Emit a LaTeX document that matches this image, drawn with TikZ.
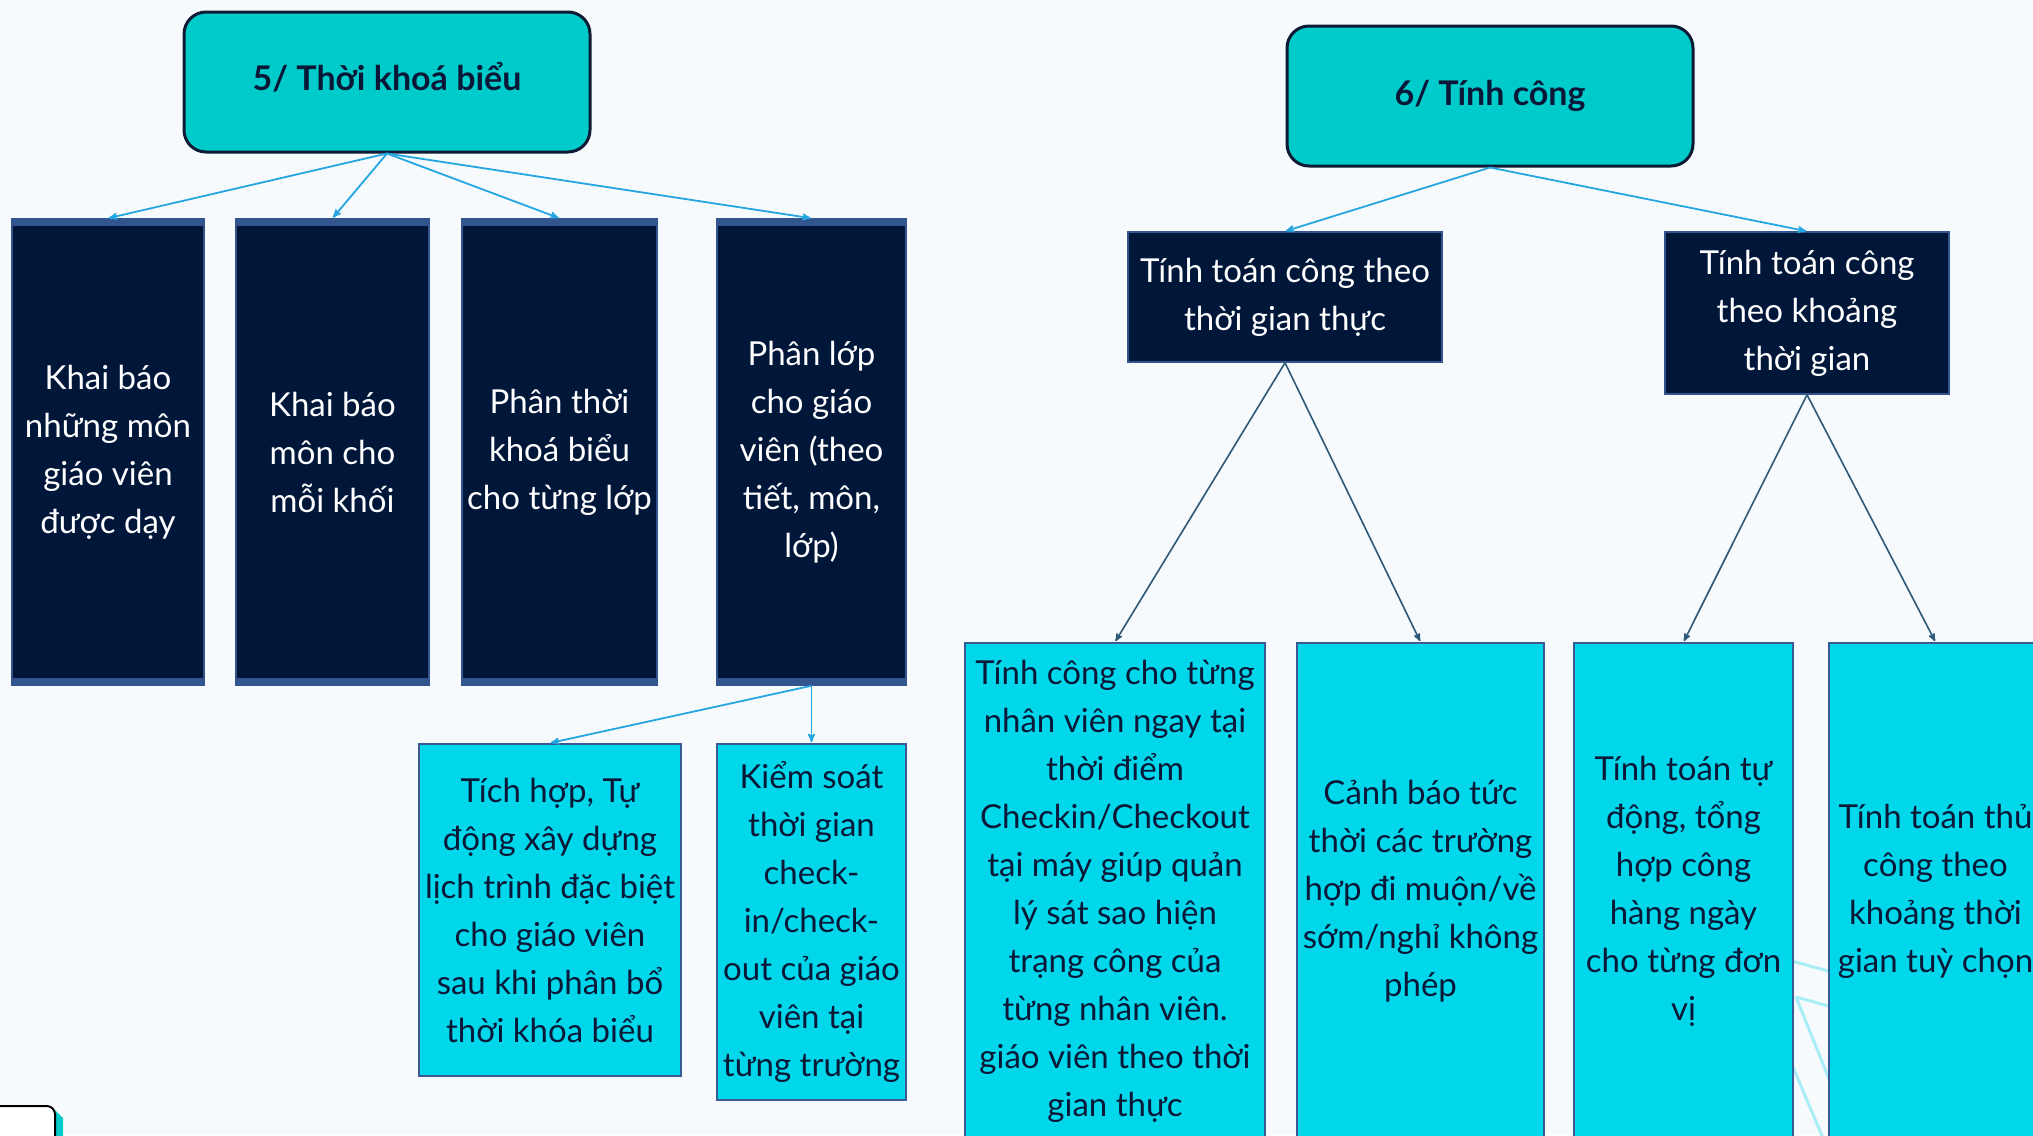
\documentclass[tikz,border=0pt]{standalone}
\usepackage{fontspec}
\setmainfont{Lato}
\usepackage{xcolor}
\usepackage{tikz}
\usetikzlibrary{arrows}

\definecolor{bgcol}{HTML}{F6FAFD}
\definecolor{topicfill}{HTML}{00CBCB}
\definecolor{topicline}{HTML}{0D1B35}
\definecolor{navyfill}{HTML}{00173A}
\definecolor{bandblue}{HTML}{33558F}
\definecolor{cyanfill}{HTML}{00D7EB}
\definecolor{edgeblue}{HTML}{3A5A96}
\definecolor{navytext}{HTML}{0A1838}
\definecolor{linkblue}{HTML}{25A6E1}
\definecolor{slate}{HTML}{2E5877}
\definecolor{faint}{HTML}{A9EEF6}

\newcommand{\boxfont}{\fontsize{33}{48}\selectfont}

\tikzset{
 topic/.style={draw=topicline,line width=3pt,fill=topicfill,rounded corners=22pt,
  minimum width=406pt,minimum height=140pt,inner sep=0pt,text=navytext,
  font=\bfseries\fontsize{34}{40}\selectfont},
 darkcol/.style={fill=navyfill,draw=bandblue,line width=1.5pt,text=white,
  align=center,inner sep=0pt,font=\boxfont,
  path picture={
   \fill[bandblue] (path picture bounding box.north west) rectangle ([yshift=-7pt]path picture bounding box.north east);
   \fill[bandblue] (path picture bounding box.south west) rectangle ([yshift=7pt]path picture bounding box.south east);}},
 darkbox/.style={fill=navyfill,draw=bandblue,line width=1.5pt,text=white,
  align=center,inner sep=0pt,font=\boxfont},
 cyanbox/.style={fill=cyanfill,draw=edgeblue,line width=2pt,text=navytext,
  align=center,inner sep=0pt,font=\boxfont},
 link/.style={->,draw=linkblue,line width=1.8pt},
 sublink/.style={->,draw=slate,line width=1.6pt}
}

\begin{document}
\begin{tikzpicture}[x=1pt,y=-1pt,>=stealth',shorten >=1pt]
 \fill[bgcol] (0,0) rectangle (2033,1135);
 \useasboundingbox (0,0) rectangle (2033,1135);
 \clip (0,0) rectangle (2033,1135);

 % faint lines behind the boxes
 \coordinate (fa) at (1770,955);
 \coordinate (fb) at (1850,977);
 \coordinate (fc) at (1796,997);
 \coordinate (fd) at (1850,1012);
 \coordinate (fe) at (1850,1131);
 \coordinate (ff) at (1770,1013);
 \coordinate (fg) at (1845,1190);
 \draw[faint,line width=3pt] (fa) -- (fb);
 \draw[faint,line width=3pt] (fc) -- (fd);
 \draw[faint,line width=3pt] (fc) -- (fe);
 \draw[faint,line width=3pt] (ff) -- (fg);

 % 5/ Thoi khoa bieu
 \node[topic,text depth=12pt] (t5) at (387,82) {5/ Thời khoá biểu};
 \node[darkcol,minimum width=192pt,minimum height=466pt] (khai1) at (108,452)
  {Khai báo\\những môn\\giáo viên\\được dạy};
 \node[darkcol,minimum width=193pt,minimum height=466pt] (khai2) at (332.5,452)
  {Khai báo\\môn cho\\mỗi khối};
 \node[darkcol,minimum width=195pt,minimum height=466pt] (phan1) at (559.5,452)
  {Phân thời\\khoá biểu\\cho từng lớp};
 \node[darkcol,minimum width=189pt,minimum height=466pt] (phan2) at (811.5,452)
  {Phân lớp\\cho giáo\\viên (theo\\tiết, môn,\\lớp)};
 \node[cyanbox,minimum width=262pt,minimum height=332pt] (tichhop) at (550,910)
  {Tích hợp, Tự\\động xây dựng\\lịch trình đặc biệt\\cho giáo viên\\sau khi phân bổ\\thời khóa biểu};
 \node[cyanbox,minimum width=189pt,minimum height=356pt] (kiemsoat) at (811.5,922)
  {Kiểm soát\\thời gian\\check-\\in/check-\\out của giáo\\viên tại\\từng trường};

 \path (t5.south) edge[link] (khai1.north) edge[link] (khai2.north)
  edge[link] (phan1.north) edge[link] (phan2.north);
 \path (phan2.south) edge[link] (tichhop.north) edge[link] (kiemsoat.north);

 % 6/ Tinh cong
 \node[topic] (t6) at (1490,96) {6/ Tính công};
 \node[darkbox,minimum width=314pt,minimum height=130pt] (thuc) at (1285,297)
  {Tính toán công theo\\thời gian thực};
 \node[darkbox,minimum width=284pt,minimum height=162pt] (khoang) at (1807,313)
  {Tính toán công\\theo khoảng\\thời gian};
 \node[cyanbox,minimum width=300pt,minimum height=496pt] (tungnv) at (1115,891)
  {Tính công cho từng\\nhân viên ngay tại\\thời điểm\\Checkin/Checkout\\tại máy giúp quản\\lý sát sao hiện\\trạng công của\\từng nhân viên.\\giáo viên theo thời\\gian thực};
 \node[cyanbox,minimum width=247pt,minimum height=496pt] (canhbao) at (1420.5,891)
  {Cảnh báo tức\\thời các trường\\hợp đi muộn/về\\sớm/nghỉ không\\phép};
 \node[cyanbox,minimum width=219pt,minimum height=496pt] (tudong) at (1683.5,891)
  {Tính toán tự\\động, tổng\\hợp công\\hàng ngày\\cho từng đơn\\vị};
 \node[cyanbox,minimum width=213pt,minimum height=496pt] (thucong) at (1935.5,891)
  {Tính toán thủ\\công theo\\khoảng thời\\gian tuỳ chọn};

 \path (t6.south) edge[link] (thuc.north) edge[link] (khoang.north);
 \path (thuc.south) edge[sublink] (tungnv.north) edge[sublink] (canhbao.north);
 \path (khoang.south) edge[sublink] (tudong.north) edge[sublink] (thucong.north);

 % corner of the next card
 \fill[topicfill] (55,1110) -- (63,1118) -- (63,1160) -- (55,1160) -- cycle;
 \draw[black,fill=white,line width=2pt,rounded corners=3pt]
  (-20,1106) -- (50,1106) -- (55,1111) -- (55,1160) -- (-20,1160) -- cycle;
\end{tikzpicture}
\end{document}
